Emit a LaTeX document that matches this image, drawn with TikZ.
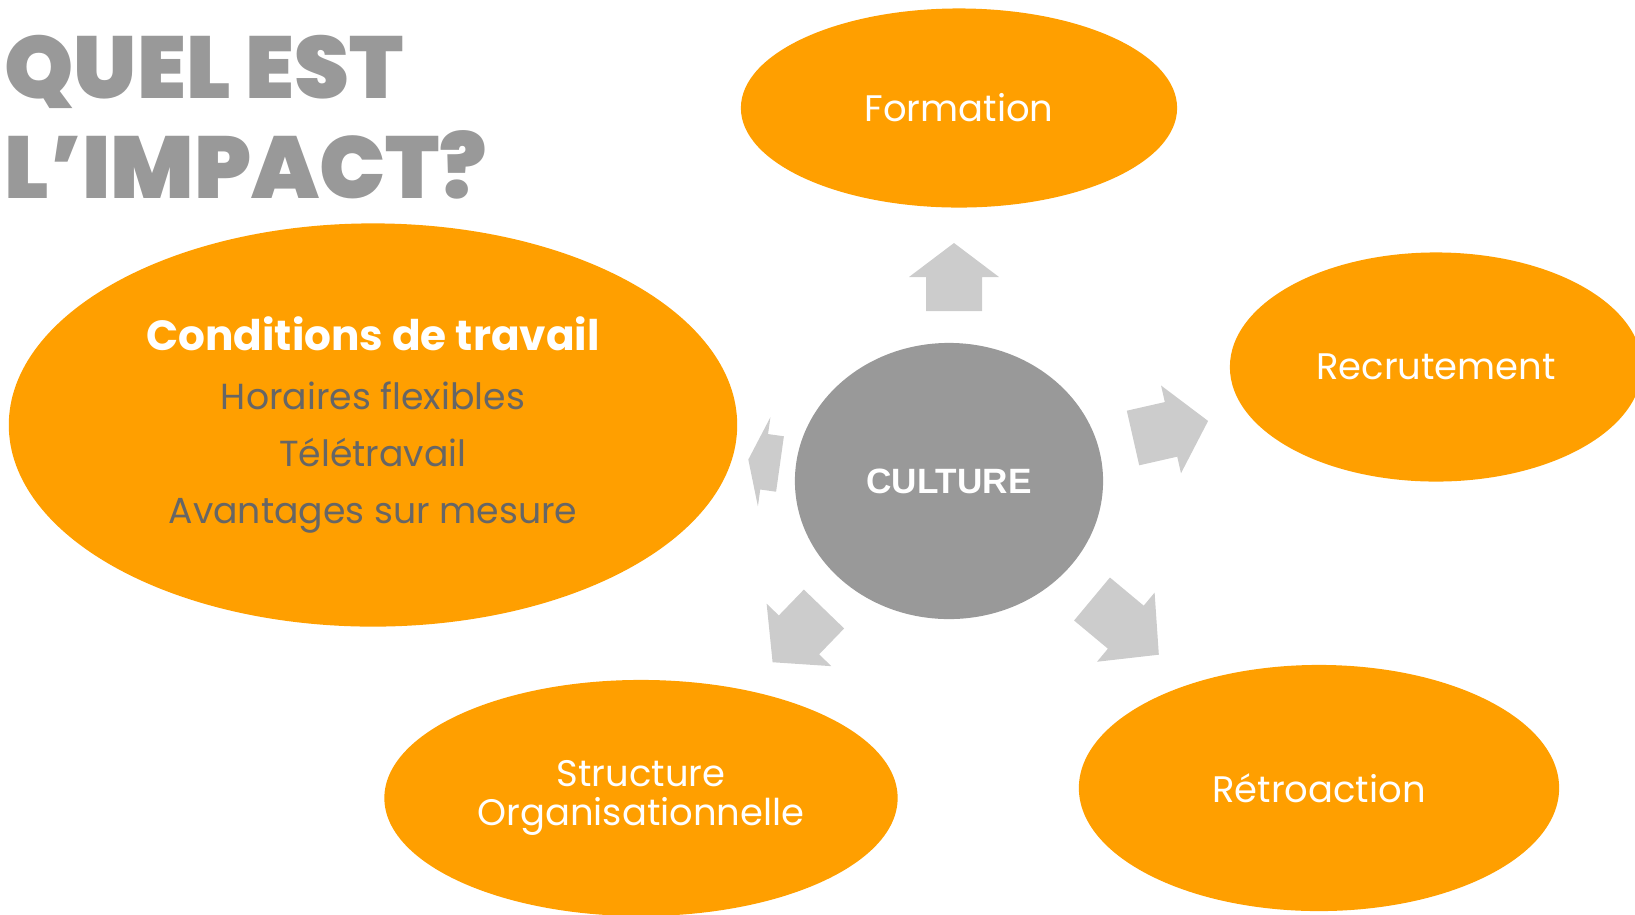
\documentclass[tikz,border=0pt]{standalone}
\usepackage{fontspec}
\setmainfont{Poppins}
\newfontfamily\titlefont{Poppins Black}
\newfontfamily\culturefont{Liberation Sans}
\usetikzlibrary{shapes.geometric}
\definecolor{impactorange}{RGB}{255,159,0}
\definecolor{culturegray}{RGB}{153,153,153}
\definecolor{arrowgray}{RGB}{204,204,204}
\definecolor{itemgray}{RGB}{102,102,102}
\def\blockarrow(#1)(#2:#3:#4){\fill[arrowgray, shift={(#1)}, rotate=#2] (0,-28) -- (#3,-28) -- (#3,-45) -- ({#3+#4},0) -- (#3,45) -- (#3,28) -- (0,28) -- cycle;}

\tikzset{
	bubble/.style={ellipse, fill=impactorange, text=white, inner sep=0pt, align=center, font=\fontsize{10.5}{11.2}\selectfont},
}

\begin{document}
\begin{tikzpicture}[x=0.01cm, y=-0.01cm]
			%%%%% START %%%%%
			\useasboundingbox (0,0) rectangle (1635,914);
			
			\node[anchor=north west, align=left, text=culturegray, inner sep=0pt, font=\titlefont\fontsize{25}{28.7}\selectfont] (title) at (4,34) {QUEL EST\\L’IMPACT?};
			
			\node[bubble, minimum width=4.36cm, minimum height=1.99cm] (formation) at (959,108) {Formation};
			\node[bubble, minimum width=4.12cm, minimum height=2.29cm] (recrutement) at (1436,367) {Recrutement};
			\node[bubble, minimum width=4.80cm, minimum height=2.46cm] (retroaction) at (1319,788) {Rétroaction};
			\node[bubble, minimum width=5.13cm, minimum height=2.36cm] (structure) at (641,798) {Structure\\Organisationnelle};
			\node[bubble, minimum width=7.28cm, minimum height=4.03cm, text=itemgray, font=\fontsize{10.3}{16.2}\selectfont] (conditions) at (373,425) {%
				{\bfseries\fontsize{12}{16.2}\selectfont\color{white}Conditions de travail}\\[0.8pt]
				Horaires flexibles\\
				Télétravail\\
				Avantages sur mesure};
			
			\node[ellipse, fill=culturegray, text=white, minimum width=3.08cm, minimum height=2.76cm, font=\culturefont\bfseries\fontsize{10}{12}\selectfont] (culture) at (949,481) {CULTURE};
			
			\blockarrow(954,311)(90:34:34)
			\blockarrow(1133,438)(12.8:39:38)
			\blockarrow(780,464)(172:16:16)
			\blockarrow(824,609)(226:36:38)
			\blockarrow(1092,599)(-39.8:44:43)
			%%%%% END %%%%%
\end{tikzpicture}
\end{document}
